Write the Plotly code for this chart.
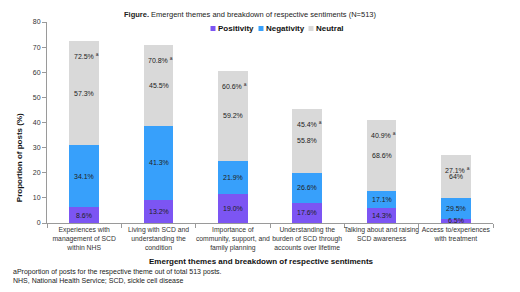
import plotly.graph_objects as go

# ---- data ----
themes = [
    "Experiences with<br>management of SCD<br>within NHS",
    "Living with SCD and<br>understanding the<br>condition",
    "Importance of<br>community, support, and<br>family planning",
    "Understanding the<br>burden of SCD through<br>accounts over lifetime",
    "Talking about and raising<br>SCD awareness",
    "Access to/experiences<br>with treatment",
]
theme_total = [72.5, 70.8, 60.6, 45.4, 40.9, 27.1]      # % of all 513 posts
positivity_share = [8.6, 13.2, 19.0, 17.6, 14.3, 6.5]   # % within theme
negativity_share = [34.1, 41.3, 21.9, 26.6, 17.1, 29.5]
neutral_share = [57.3, 45.5, 59.2, 55.8, 68.6, 64]
neutral_labels = ["57.3%", "45.5%", "59.2%", "55.8%", "68.6%", "64%"]
y_ticks = [0, 10, 20, 30, 40, 50, 60, 70, 80]

series_names = ["Positivity", "Negativity", "Neutral"]
colors = ["#7C55F3", "#37A0FB", "#D9D9D9"]
FONT = "Liberation Sans, Arial, sans-serif"
TXT = "#333333"

# page body adds an 8px margin; work in window pixels and compensate
OFF = 8
W, H = 520 - OFF, 292 - OFF
L, R, T, B = 47 - OFF, 27, 21.5 - OFF, 69
PW, PH = W - L - R, H - T - B


def px(xp):
    return (xp - OFF - L) / PW


def py(yp):
    return (H - B - (yp - OFF)) / PH


shares = [positivity_share, negativity_share, neutral_share]
segments = [[t * s / 100 for t, s in zip(theme_total, sh)] for sh in shares]

fig = go.Figure()
for name, col, seg in zip(series_names, colors, segments):
    fig.add_trace(go.Bar(x=themes, y=seg, name=name, marker_color=col,
                         marker_line_width=0, showlegend=False,
                         hoverinfo="skip"))

annotations = []
# segment labels
bottoms = [0.0] * len(themes)
label_sets = [
    [f"{v:.1f}%" for v in positivity_share],
    [f"{v:.1f}%" for v in negativity_share],
    neutral_labels,
]
for seg, labels in zip(segments, label_sets):
    for i, (h, lab) in enumerate(zip(seg, labels)):
        annotations.append(dict(x=themes[i], y=bottoms[i] + h / 2, text=lab,
                                showarrow=False, xref="x", yref="y",
                                xanchor="center", yanchor="middle",
                                font=dict(family=FONT, size=7, color="#222222")))
        bottoms[i] += h
# totals (a)
for th, tot in zip(themes, theme_total):
    annotations.append(dict(x=th, y=tot, yshift=-15, text=f"{tot:.1f}% <sup>a</sup>",
                            showarrow=False, xref="x", yref="y", xshift=2,
                            xanchor="center", yanchor="middle",
                            font=dict(family=FONT, size=7, color="#222222")))


def paper_text(x, y, text, size, color="#222222", xanchor="center", angle=0):
    return dict(x=px(x), y=py(y), xref="paper", yref="paper", text=text,
                showarrow=False, xanchor=xanchor, yanchor="middle", textangle=angle,
                font=dict(family=FONT, size=size, color=color))


# title
annotations.append(paper_text(250, 13.5,
                              "<b>Figure.</b> Emergent themes and breakdown of respective sentiments (N=513)",
                              7.5))
# axis titles
annotations.append(paper_text(261, 262,
                              "<b>Emergent themes and breakdown of respective sentiments</b>",
                              8, "#111111"))
annotations.append(paper_text(19, 158, "<b>Proportion of posts (%)</b>", 8, "#111111",
                              angle=-90))
# footnotes
annotations.append(paper_text(11, 272,
                              "aProportion of posts for the respective theme out of total 513 posts.",
                              7, xanchor="left"))
annotations.append(paper_text(11, 281,
                              "NHS, National Health Service; SCD, sickle cell disease",
                              7, xanchor="left"))

# legend (squares + bold labels)
shapes = []
leg_sq_x = [213, 261, 311]
for name, col, sx in zip(series_names, colors, leg_sq_x):
    shapes.append(dict(type="rect", xref="paper", yref="paper",
                       x0=px(sx - 2.5), x1=px(sx + 2.5), y0=py(30.5), y1=py(25.5),
                       fillcolor=col, line_width=0))
    annotations.append(paper_text(sx + 3, 28, f"<b>{name}</b>", 8, "#111111",
                                  xanchor="left"))

fig.update_layout(
    width=W, height=H,
    margin=dict(l=L, r=R, t=T, b=B, pad=0, autoexpand=False),
    barmode="stack", bargap=0.6,
    plot_bgcolor="white", paper_bgcolor="white",
    font=dict(family=FONT, size=7, color=TXT),
    annotations=annotations, shapes=shapes,
    xaxis=dict(showline=True, linecolor="#9A9A9A", linewidth=1, tickangle=0,
               automargin=False,
               ticks="outside", tickson="boundaries", ticklen=4, tickcolor="#9A9A9A",
               tickfont=dict(family=FONT, size=6.8, color=TXT), showgrid=False),
    yaxis=dict(range=[0, 80], tickvals=y_ticks, showline=True, linecolor="#9A9A9A",
               linewidth=1, ticks="outside", ticklen=4, tickcolor="#9A9A9A",
               automargin=False,
               tickfont=dict(family=FONT, size=7, color=TXT), showgrid=False,
               zeroline=False),
)

fig.write_html("out.html")
